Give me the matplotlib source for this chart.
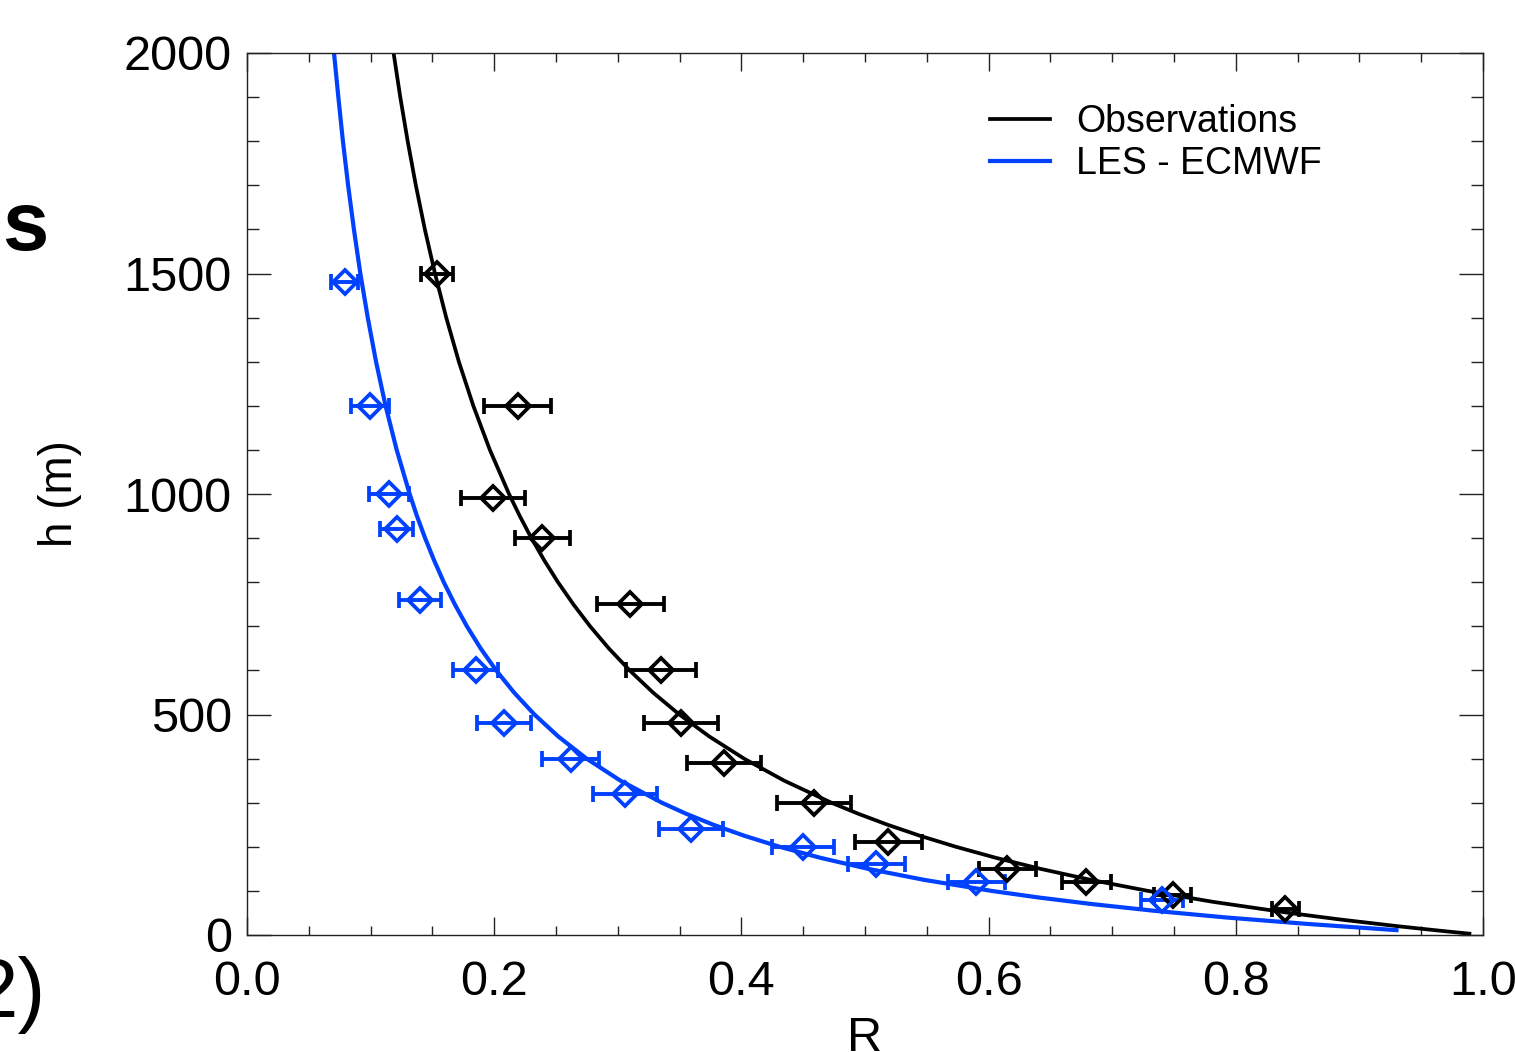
import matplotlib
matplotlib.use("Agg")
import matplotlib.pyplot as plt
from matplotlib.ticker import MultipleLocator

plt.rcParams["font.family"] = ["Liberation Sans", "DejaVu Sans"]

BLUE = "#0040ff"

# fitted curves (R vs h)
fit_obs_h = [2000, 1900, 1800, 1700, 1600, 1500, 1400, 1300, 1200, 1100, 1000, 950,
             900, 850, 800, 750, 700, 650, 600, 550, 500, 450, 400, 350, 300, 275,
             250, 225, 200, 175, 150, 125, 100, 75, 50, 35, 20, 10, 3]
fit_obs_r = [0.1186, 0.1240, 0.1300, 0.1366, 0.1439, 0.1521, 0.1612, 0.1714, 0.1831,
             0.1965, 0.2120, 0.2207, 0.2301, 0.2404, 0.2516, 0.2640, 0.2776, 0.2927,
             0.3096, 0.3284, 0.3498, 0.3741, 0.4021, 0.4346, 0.4728, 0.4945, 0.5183,
             0.5445, 0.5736, 0.6059, 0.6420, 0.6827, 0.7290, 0.7820, 0.8433, 0.8849,
             0.9308, 0.9642, 0.989]

fit_les_h = [2000, 1900, 1800, 1700, 1600, 1500, 1400, 1300, 1200, 1100, 1000, 950,
             900, 850, 800, 750, 700, 650, 600, 550, 500, 450, 400, 350, 300, 275,
             250, 225, 200, 175, 150, 125, 100, 85, 70, 55, 40, 25, 11]
fit_les_r = [0.0704, 0.0739, 0.0776, 0.0818, 0.0865, 0.0917, 0.0977, 0.1044, 0.1121,
             0.1211, 0.1316, 0.1375, 0.1441, 0.1513, 0.1592, 0.1681, 0.1779, 0.1890,
             0.2016, 0.2160, 0.2325, 0.2519, 0.2747, 0.3021, 0.3356, 0.3552, 0.3773,
             0.4024, 0.4310, 0.4640, 0.5025, 0.5479, 0.6024, 0.6406, 0.6840, 0.7337,
             0.7911, 0.8584, 0.930]

# measured points with horizontal error bars
obs_h = [1500, 1200, 990, 900, 750, 600, 480, 390, 300, 210, 150, 120, 90, 60]
obs_r = [0.154, 0.219, 0.199, 0.239, 0.310, 0.335, 0.351, 0.386, 0.459, 0.519,
         0.615, 0.679, 0.749, 0.840]
obs_err = [0.013, 0.027, 0.026, 0.022, 0.027, 0.028, 0.030, 0.030, 0.030, 0.027,
           0.023, 0.020, 0.015, 0.011]

les_h = [1480, 1200, 1000, 920, 760, 600, 480, 400, 320, 240, 200, 160, 120, 80]
les_r = [0.079, 0.0995, 0.115, 0.121, 0.140, 0.185, 0.208, 0.262, 0.306, 0.359,
         0.450, 0.509, 0.590, 0.740]
les_err = [0.011, 0.015, 0.016, 0.013, 0.017, 0.018, 0.022, 0.023, 0.026, 0.026,
           0.025, 0.023, 0.023, 0.017]

W, H = 1515, 1052
fig = plt.figure(figsize=(W / 100, H / 100), dpi=100)
ax = fig.add_axes([247 / W, 1 - 935 / H, (1483 - 247) / W, (935 - 53) / H])

ax.plot(fit_obs_r, fit_obs_h, color="k", lw=2.7, label="Observations")
ax.plot(fit_les_r, fit_les_h, color=BLUE, lw=3.0, label="LES - ECMWF")

for r, h, e, c in [(obs_r, obs_h, obs_err, "k"), (les_r, les_h, les_err, BLUE)]:
    ax.errorbar(r, h, xerr=e, fmt="D", ms=12.5, mfc="none", mec=c, mew=2.7,
                ecolor=c, elinewidth=2.8, capsize=5.5, capthick=2.8)

ax.set_xlim(0, 1)
ax.set_ylim(0, 2000)
ax.xaxis.set_major_locator(MultipleLocator(0.2))
ax.xaxis.set_minor_locator(MultipleLocator(0.05))
ax.yaxis.set_major_locator(MultipleLocator(500))
ax.yaxis.set_minor_locator(MultipleLocator(100))
ax.tick_params(which="both", direction="in", top=True, right=True,
               labelsize=35, width=1, color="#222222")
ax.tick_params(axis="x", which="major", length=13, pad=18)
ax.tick_params(axis="x", which="minor", length=6.5)
ax.tick_params(axis="y", which="major", length=17, pad=11)
ax.tick_params(axis="y", which="minor", length=8.6)
for s in ax.spines.values():
    s.set_linewidth(1)
    s.set_color("#222222")

ax.set_xlabel("R", fontsize=35, labelpad=8)
ax.set_ylabel("h (m)", fontsize=33, labelpad=30)

ax.legend(loc="upper left", bbox_to_anchor=(990 / W, 1 - 104 / H),
          bbox_transform=fig.transFigure, frameon=False, fontsize=27,
          handlelength=1.6, handletextpad=0.7, borderpad=0, borderaxespad=0,
          labelspacing=0.15)

# bits of neighbouring panels that sit in the crop
fig.text(25 / W, 1 - 228 / H, "s", fontsize=60, fontweight="bold",
         ha="center", va="center")
fig.text(46 / W, 1 - 995 / H, "2)", fontsize=60, ha="right", va="center")

fig.savefig("out.png", dpi=100)
